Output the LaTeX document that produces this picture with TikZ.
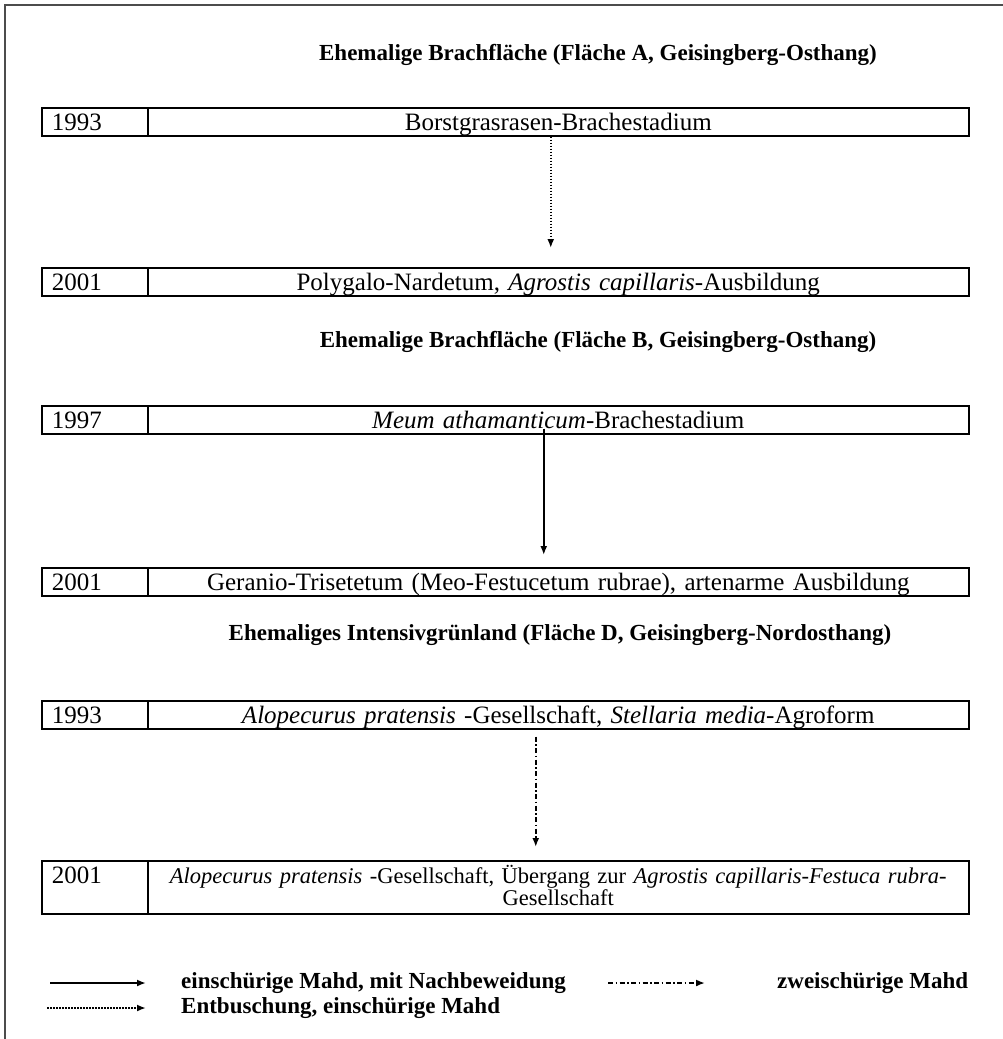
\documentclass[tikz,border=0pt]{standalone}
\usepackage{fontspec}
\setmainfont{Liberation Serif}
\usetikzlibrary{arrows.meta, calc}

\begin{document}
\begin{tikzpicture}[x=1pt, y=-1pt,
    cell/.style={draw, line width=1.5pt, anchor=north west, inner xsep=10pt, inner ysep=1pt,
      text height=22pt, text depth=4pt, font=\fontsize{25}{22}\selectfont},
    yearcell/.style={cell, text width=86pt, align=left},
    plantcell/.style={cell, text width=801pt, align=center},
    heading/.style={font=\fontsize{23}{27}\selectfont\bfseries},
    legendtext/.style={anchor=west, inner sep=0pt, font=\fontsize{23}{27}\selectfont\bfseries},
    tip/.style={-{Latex[length=9pt,width=7pt]}, line width=1.8pt},
    mowing/.style={tip},
    clearing/.style={tip, dash pattern=on 1.6pt off 1.4pt},
    twice/.style={tip, dash pattern=on 5pt off 2.5pt on 1.5pt off 2.5pt}]
    \useasboundingbox (0,0) rectangle (1003,1039);
    % frame
    \draw[line width=1.5pt, black!70] (5,1039) -- (5,5) -- (1003,5);

    % Flaeche A
    \node[heading] (titleA) at (598,55) {Ehemalige Brachfläche (Fläche A, Geisingberg-Osthang)};
    \node[yearcell] (yA1) at (41,107) {1993};
    \node[plantcell] (pA1) at (147,107) {Borstgrasrasen-Brachestadium};
    \node[yearcell] (yA2) at (41,267) {2001};
    \node[plantcell] (pA2) at (147,267) {Polygalo-Nardetum, \textit{Agrostis capillaris}-Ausbildung};
    \draw[clearing, shorten >=19pt] ([xshift=-7.5pt]pA1.south) -- ([xshift=-7.5pt]pA2.north);

    % Flaeche B
    \node[heading] (titleB) at (598,342) {Ehemalige Brachfläche (Fläche B, Geisingberg-Osthang)};
    \node[yearcell] (yB1) at (41,405) {1997};
    \node[plantcell] (pB1) at (147,405) {\textit{Meum athamanticum}-Brachestadium};
    \node[yearcell] (yB2) at (41,567) {2001};
    \node[plantcell] (pB2) at (147,567) {Geranio-Trisetetum (Meo-Festucetum rubrae), artenarme Ausbildung};
    \draw[mowing, shorten <=-6pt, shorten >=12pt] ([xshift=-14.5pt]pB1.south) -- ([xshift=-14.5pt]pB2.north);

    % Flaeche D
    \node[heading] (titleD) at (560,635) {Ehemaliges Intensivgrünland (Fläche D, Geisingberg-Nordosthang)};
    \node[yearcell] (yD1) at (41,700) {1993};
    \node[plantcell] (pD1) at (147,700) {\textit{Alopecurus pratensis} -Gesellschaft, \textit{Stellaria media}-Agroform};
    \node[yearcell, text depth=29pt] (yD2) at (41,860) {2001};
    \node[plantcell, text depth=29pt, font=\fontsize{22.5}{22}\selectfont] (pD2) at (147,860)
      {\textit{Alopecurus pratensis} -Gesellschaft, Übergang zur \textit{Agrostis capillaris-Festuca rubra}-\\Gesellschaft};
    \draw[twice, shorten <=7pt, shorten >=13pt] ([xshift=-22.5pt]pD1.south) -- ([xshift=-22.5pt]pD2.north);

    % legend
    \coordinate (lg1s) at (50,983);
    \coordinate (lg1e) at (146,983);
    \coordinate (lg2s) at (47,1008);
    \coordinate (lg2e) at (146,1008);
    \coordinate (lg3s) at (608,983);
    \coordinate (lg3e) at (705,983);
    \draw[mowing] (lg1s) -- (lg1e);
    \draw[clearing] (lg2s) -- (lg2e);
    \draw[twice] (lg3s) -- (lg3e);
    \node[legendtext] (lg1) at (181,983) {einschürige Mahd, mit Nachbeweidung};
    \node[legendtext] (lg2) at (181,1008) {Entbuschung, einschürige Mahd};
    \node[legendtext] (lg3) at (777,983) {zweischürige Mahd};
\end{tikzpicture}
\end{document}
